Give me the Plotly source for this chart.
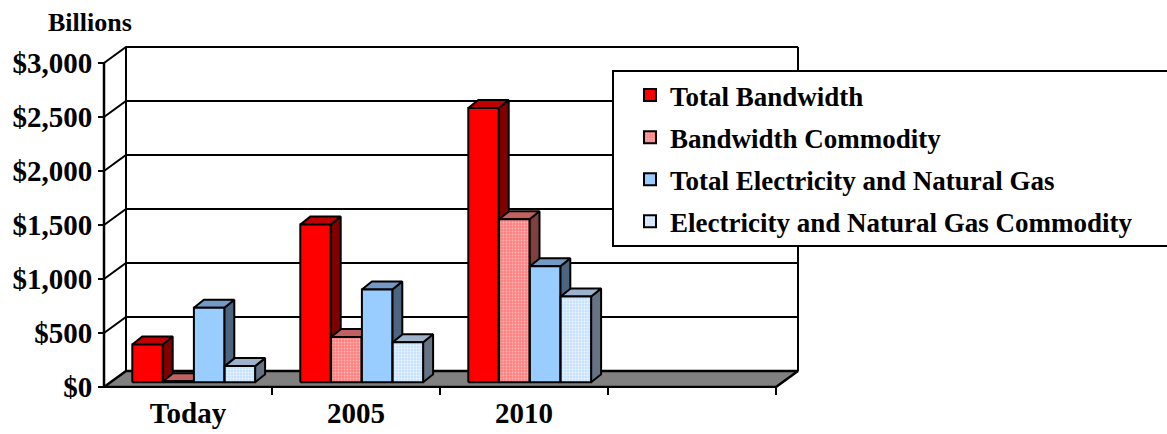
import plotly.graph_objects as go

# ---------------- data ----------------
categories = ["Today", "2005", "2010"]
series_names = [
    "Total Bandwidth",
    "Bandwidth Commodity",
    "Total Electricity and Natural Gas",
    "Electricity and Natural Gas Commodity",
]
total_bandwidth = [350, 1460, 2540]
bandwidth_commodity = [10, 420, 1510]
total_elec_gas = [690, 860, 1075]
elec_gas_commodity = [150, 370, 795]
y_tick_values = [0, 500, 1000, 1500, 2000, 2500, 3000]
y_tick_labels = ["$0", "$500", "$1,000", "$1,500", "$2,000", "$2,500", "$3,000"]
n_slots = 4  # the chart reserves a fourth, empty category slot

series_values = [total_bandwidth, bandwidth_commodity, total_elec_gas, elec_gas_commodity]

# ---------------- styling ----------------
FONT = "Liberation Serif"
front_colors = ["#FF0000", "#FF8080", "#99CCFF", "#CCE4FF"]
top_colors = ["#C00000", "#C06060", "#7399C4", "#9EB2CC"]
side_colors = ["#800000", "#804040", "#4D6680", "#667385"]
patterns = [None,
            dict(shape=".", fgcolor="#FFB8B8", bgcolor="#FF8080", size=3, solidity=0.3),
            None,
            dict(shape=".", fgcolor="#F0F7FF", bgcolor="#C8E2FF", size=3, solidity=0.3)]

W, H = 1167, 434
L, R, T, B = 100, 801, 44, 388          # plot area in pixels
CAT_PX = 168.0                           # pixels per category slot (front plane)
FRONT_X0 = 104.0                         # pixel x of the front value axis
FRONT_Y0 = 387.0                         # pixel y of value 0 on the front plane
PX_PER_UNIT = 324.0 / 3000.0             # vertical pixels per value unit

def dx(px):
    return px / CAT_PX

def dy(px):
    return px / PX_PER_UNIT

x_min = (L - FRONT_X0) / CAT_PX - 0.5
x_max = (R - FRONT_X0) / CAT_PX - 0.5
y_min = -(B - FRONT_Y0) / PX_PER_UNIT
y_max = (FRONT_Y0 - T) / PX_PER_UNIT

wall_dx, wall_dy = dx(22), dy(16)        # depth of the 3-D box
bar_dx, bar_dy = dx(10), dy(8)           # depth of each bar
bar_base = dy(4.7)                       # bars stand slightly behind the front edge
bar_step = dx(30.8)
bar_w = dx(30.4)
group_left = dx(-55.7)

x_left = -0.5
x_right = n_slots - 0.5
y_top = y_tick_values[-1]

fig = go.Figure()

def poly(xs, ys, fill, width=2, pattern=None, color="black"):
    kw = dict(x=xs + [xs[0]], y=ys + [ys[0]], mode="lines",
              line=dict(color=color, width=width), showlegend=False,
              hoverinfo="skip")
    if fill is not None:
        kw["fill"] = "toself"
        kw["fillcolor"] = fill
        if pattern is not None:
            kw["fillpattern"] = pattern
    fig.add_trace(go.Scatter(**kw))

def line(xs, ys, width=2):
    fig.add_trace(go.Scatter(x=xs, y=ys, mode="lines",
                             line=dict(color="black", width=width),
                             showlegend=False, hoverinfo="skip"))

# gridlines: side wall diagonal + back wall horizontal
for v in y_tick_values[1:]:
    line([x_left, x_left + wall_dx, x_right + wall_dx], [v, v + wall_dy, v + wall_dy], width=2)

# wall edges
line([x_left, x_left], [0, y_top], width=2.5)
line([x_left + wall_dx, x_left + wall_dx], [wall_dy, y_top + wall_dy], width=2)
line([x_right + wall_dx, x_right + wall_dx], [wall_dy, y_top + wall_dy], width=2)

# floor
poly([x_left, x_left + wall_dx, x_right + wall_dx, x_right],
     [0, wall_dy, wall_dy, 0], "#808080", width=2.5)

# bars (side, top, front) drawn left to right
for i in range(len(categories)):
    for k, vals in enumerate(series_values):
        v = vals[i]
        xl = i + group_left + k * bar_step
        xr = xl + bar_w
        b = bar_base
        t = bar_base + v
        # side face
        poly([xr, xr + bar_dx, xr + bar_dx, xr], [b, b + bar_dy, t + bar_dy, t], side_colors[k])
        # top face
        poly([xl, xr, xr + bar_dx, xl + bar_dx], [t, t, t + bar_dy, t + bar_dy], top_colors[k])
        # front face
        poly([xl, xr, xr, xl], [b, b, t, t], front_colors[k], pattern=patterns[k])

# legend entries
for k, name in enumerate(series_names):
    marker = dict(color=front_colors[k], line=dict(color="black", width=2))
    if patterns[k] is not None:
        marker["pattern"] = patterns[k]
    fig.add_trace(go.Bar(x=[None], y=[None], name=name, marker=marker,
                         legendgroup=name, showlegend=True))

def px_to_paper_x(px):
    return (px - L) / (R - L)

def px_to_paper_y(py):
    return (B - py) / (B - T)

fig.add_shape(type="rect", xref="paper", yref="paper",
              x0=px_to_paper_x(613), x1=px_to_paper_x(1180),
              y0=px_to_paper_y(246), y1=px_to_paper_y(71),
              line=dict(color="black", width=2), fillcolor="white", layer="above")

fig.add_annotation(text="Billions", xref="paper", yref="paper",
                   x=px_to_paper_x(90), y=px_to_paper_y(23),
                   xanchor="center", yanchor="middle", showarrow=False,
                   font=dict(family=FONT, size=26, color="black", weight="bold"))

fig.update_layout(
    template="none",
    width=W, height=H,
    margin=dict(l=L, r=W - R, t=T, b=H - B, pad=0, autoexpand=False),
    paper_bgcolor="white", plot_bgcolor="white",
    showlegend=True,
    barmode="overlay",
    legend=dict(x=px_to_paper_x(630), y=px_to_paper_y(71), xanchor="left", yanchor="top",
                bgcolor="rgba(0,0,0,0)", borderwidth=0, tracegroupgap=4,
                font=dict(family=FONT, size=27, color="black", weight="bold")),
    xaxis=dict(range=[x_min, x_max], tickvals=list(range(len(categories))),
               ticktext=categories, ticks="", showgrid=False, zeroline=False,
               showline=False, anchor="free", position=(B - FRONT_Y0) / (B - T),
               automargin=False, ticklabelstandoff=6,
               tickfont=dict(family=FONT, size=29, color="black", weight="bold"),
               minor=dict(tickvals=[s + 0.5 for s in range(n_slots)], ticks="outside",
                          ticklen=7, tickwidth=2, tickcolor="black", showgrid=False)),
    yaxis=dict(range=[y_min, y_max], tickvals=y_tick_values, ticktext=y_tick_labels,
               ticks="outside", ticklen=6, tickwidth=2, tickcolor="black",
               showgrid=False, zeroline=False, showline=False, automargin=False,
               anchor="free", position=(FRONT_X0 - L) / (R - L),
               tickfont=dict(family=FONT, size=29, color="black", weight="bold")),
)

fig.write_html("out.html")
